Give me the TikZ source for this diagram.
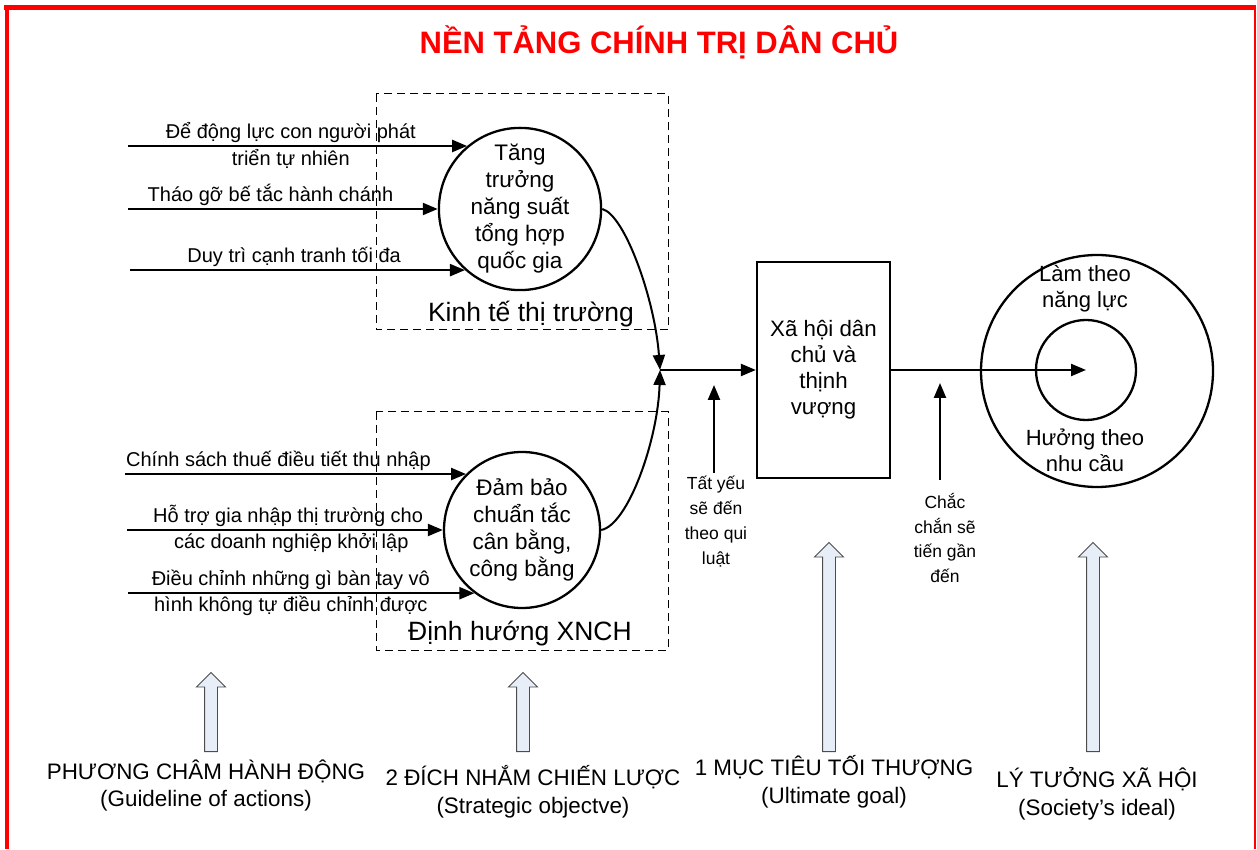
\documentclass[tikz,border=0pt]{standalone}
\usepackage{fontspec}
\setmainfont{Liberation Sans}
\usetikzlibrary{positioning, arrows.meta, shapes.arrows}
\definecolor{khung}{RGB}{255,0,0}
\definecolor{muiten}{RGB}{232,238,248}
\tikzset{
	% chu nho
	chu/.style={
		font=\fontsize{20}{24}\selectfont,
		inner sep=2pt
	}, %
	% vong tron
	vong/.style={
		circle,
		draw,
		line width=2.3pt,
		align=center,
		inner sep=0pt,
		font=\fontsize{22.5}{27}\selectfont
	}, %
	% mui ten den
	vao/.style={
		-{Triangle[length=15pt,width=12pt]},
		line width=2.3pt
	}, %
	% mui ten rong
	rong/.style={
		single arrow,
		draw=gray!60!black,
		fill=muiten,
		line width=0.9pt,
		rotate=90,
		anchor=tail,
		inner sep=6pt,
		single arrow head extend=8pt
	} %
}

\begin{document}
\begin{tikzpicture}[x=1pt, y=1pt]
	\useasboundingbox (0,0) rectangle (1257,849);

	% khung
	\draw[khung, line width=5pt] (4,841.5)--(1256,841.5);
	\draw[khung, line width=4pt] (7,841.5)--(7,0);
	\draw[khung, line width=1.5pt] (1255,841.5)--(1255,0);

	% tieu de
	\node[khung, font=\bfseries\fontsize{31}{34}\selectfont] (tieude) at (659,807)
	{NỀN TẢNG CHÍNH TRỊ DÂN CHỦ};

	% khung net dut
	\draw[line width=1pt, dash pattern=on 8pt off 5pt] (376,755) rectangle (668,519);
	\draw[line width=1pt, dash pattern=on 8pt off 5pt] (376,437) rectangle (668,199);
	\node[font=\fontsize{26.5}{30}\selectfont] (ktt) at (531,535) {Kinh tế thị trường};
	\node[font=\fontsize{26.5}{30}\selectfont] (dh) at (520,216) {Định hướng XNCH};

	% vong tron
	\node[vong, minimum size=160pt] (ts) at (520,640)
	{Tăng\\trưởng\\năng suất\\tổng hợp\\quốc gia};
	\node[vong, minimum size=156pt] (db) at (522,319)
	{Đảm bảo\\chuẩn tắc\\cân bằng,\\công bằng};

	% dau vao tren
	\draw[vao] (ts.130 -| 128,0)--(ts.130)
	node [chu, pos=0.48, above] {Để động lực con người phát}
	node [chu, pos=0.48, below] {triển tự nhiên};
	\draw[vao] (ts.west -| 128,0)--(ts.west)
	node [chu, pos=0.46, above] {Tháo gỡ bế tắc hành chánh};
	\draw[vao] (ts.228 -| 130,0)--(ts.228)
	node [chu, pos=0.49, above] {Duy trì cạnh tranh tối đa};

	% dau vao duoi
	\draw[vao] (db.135 -| 125,0)--(db.135)
	node [chu, pos=0.45, above] {Chính sách thuế điều tiết thu nhập};
	\draw[vao] (db.west -| 127,0)--(db.west)
	node [chu, pos=0.51, above] {Hỗ trợ gia nhập thị trường cho}
	node [chu, pos=0.52, below] {các doanh nghiệp khởi lập};
	\draw[vao] (db.233 -| 128,0)--(db.233)
	node [chu, pos=0.47, above] {Điều chỉnh những gì bàn tay vô}
	node [chu, pos=0.47, below] {hình không tự điều chỉnh được};

	% diem gap
	\coordinate (J) at (660,479);
	\draw[vao, line width=2pt] (ts.east) .. controls (625,634) and (655,549) .. (J);
	\draw[vao, line width=2pt] (db.east) .. controls (628,324) and (658,409) .. (J);

	% xa hoi
	\node[draw, line width=2.3pt, minimum width=133pt, minimum height=216pt,
	align=center, font=\fontsize{22.3}{26}\selectfont] (xh) at (823.5,479)
	{Xã hội dân\\chủ và\\thịnh\\vượng};
	\draw[vao] (J)--(xh.west);

	% ly tuong
	\node[circle, draw, line width=2.3pt, minimum size=232pt] (ln) at (1097,478) {};
	\node[circle, draw, line width=2.3pt, minimum size=100pt] (nh) at (1086,479) {};
	\node[align=center, font=\fontsize{22}{26}\selectfont] (lam) at (1085,560) {Làm theo\\năng lực};
	\node[align=center, font=\fontsize{22}{26}\selectfont] (huong) at (1085,399) {Hưởng theo\\nhu cầu};
	\draw[vao] (xh.east)--(nh.center);

	% tat yeu
	\node[align=center, anchor=north, font=\fontsize{17.5}{25}\selectfont] (ty) at (716,376)
	{Tất yếu\\sẽ đến\\theo qui\\luật};
	\coordinate (ty1) at (714,464);
	\draw[vao] (ty.north -| ty1)--(ty1);

	% chac chan
	\node[align=center, anchor=north, font=\fontsize{17.5}{24.5}\selectfont] (cc) at (945,359)
	{Chắc\\chắn sẽ\\tiến gần\\đến};
	\coordinate (cc1) at (940,466);
	\draw[vao] (940,369)--(cc1);

	% mui ten rong
	\node[rong, minimum height=79pt] (r1) at (211,97) {};
	\node[rong, minimum height=79pt] (r2) at (523,97) {};
	\node[rong, minimum height=209pt] (r3) at (829,97) {};
	\node[rong, minimum height=209pt] (r4) at (1093,97) {};

	% nhan duoi
	\node[align=center, font=\fontsize{22.4}{27}\selectfont] (pc) at (206,64)
	{PHƯƠNG CHÂM HÀNH ĐỘNG\\(Guideline of actions)};
	\node[align=center, font=\fontsize{22.4}{28}\selectfont] (dn) at (533,57)
	{2 ĐÍCH NHẮM CHIẾN LƯỢC\\(Strategic objectve)};
	\node[align=center, font=\fontsize{22.4}{28}\selectfont] (mt) at (834,67)
	{1 MỤC TIÊU TỐI THƯỢNG\\(Ultimate goal)};
	\node[align=center, font=\fontsize{22.4}{28}\selectfont] (lt) at (1097,55)
	{LÝ TƯỞNG XÃ HỘI\\(Society’s ideal)};
\end{tikzpicture}
\end{document}
